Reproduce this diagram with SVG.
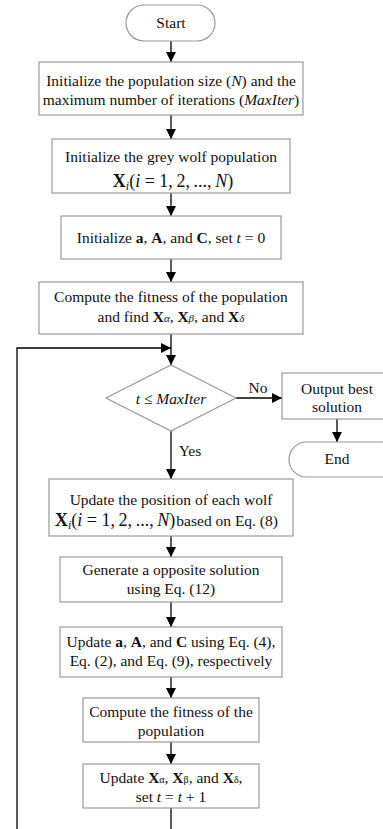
<svg xmlns="http://www.w3.org/2000/svg" width="383" height="829" viewBox="0 0 383 829">
<defs>
<marker id="ah" viewBox="0 0 10 10" refX="10" refY="5" markerWidth="10" markerHeight="10" markerUnits="userSpaceOnUse" orient="auto">
<path d="M0,0 L10,5 L0,10 z" fill="#000"/>
</marker>
</defs>
<style>
.box{fill:#fff;stroke:#999;stroke-width:1.2}
.t{font-family:"Liberation Serif","Times New Roman",serif;font-size:15.5px;fill:#111;text-anchor:middle}
.m{font-family:"Liberation Serif","Times New Roman",serif;font-size:18px;fill:#111}
.c{stroke:#000;stroke-width:1.3;fill:none}
.b{font-weight:bold}
.i{font-style:italic}
</style>
<rect width="383" height="829" fill="#fff"/>
<g id="connectors">
<line class="c" x1="171" y1="41" x2="171" y2="62" marker-end="url(#ah)"/>
<line class="c" x1="171" y1="115" x2="171" y2="139" marker-end="url(#ah)"/>
<line class="c" x1="171" y1="193" x2="171" y2="216" marker-end="url(#ah)"/>
<line class="c" x1="171" y1="259" x2="171" y2="282" marker-end="url(#ah)"/>
<line class="c" x1="171" y1="334" x2="171" y2="365" marker-end="url(#ah)"/>
<polyline class="c" points="17,829 17,348 171,348" marker-end="url(#ah)"/>
<line class="c" x1="236" y1="398" x2="282" y2="398" marker-end="url(#ah)"/>
<line class="c" x1="337" y1="419" x2="337" y2="442" marker-end="url(#ah)"/>
<line class="c" x1="171" y1="431" x2="171" y2="479" marker-end="url(#ah)"/>
<line class="c" x1="171" y1="536" x2="171" y2="557" marker-end="url(#ah)"/>
<line class="c" x1="171" y1="602" x2="171" y2="627" marker-end="url(#ah)"/>
<line class="c" x1="171" y1="677" x2="171" y2="698" marker-end="url(#ah)"/>
<line class="c" x1="171" y1="742" x2="171" y2="764" marker-end="url(#ah)"/>
<line class="c" x1="171" y1="808" x2="171" y2="829"/>
<text class="t" x="258" y="393">No</text>
<text class="t" x="190" y="456">Yes</text>
</g>
<g id="start">
<rect class="box" x="126" y="5" width="89" height="36" rx="18"/>
<text class="t" x="171" y="28">Start</text>
</g>
<g id="init-params">
<rect class="box" x="39" y="62" width="264" height="53"/>
<text class="t" x="171" y="86">Initialize the population size (<tspan class="i">N</tspan>) and the</text>
<text class="t" x="171" y="105">maximum number of iterations (<tspan class="i">MaxIter</tspan>)</text>
</g>
<g id="init-pop">
<rect class="box" x="52" y="139" width="238" height="54"/>
<text class="t" x="171" y="162">Initialize the grey wolf population</text>
<text class="m" x="173" y="187" text-anchor="middle"><tspan class="b">X</tspan><tspan class="i" font-size="12" dy="3">i</tspan><tspan dy="-3">(</tspan><tspan class="i">i</tspan> = 1,&#8201;2,&#8201;...,&#8201;<tspan class="i">N</tspan>)</text>
</g>
<g id="init-aac">
<rect class="box" x="61" y="216" width="220" height="43"/>
<text class="t" x="171" y="243">Initialize <tspan class="b">a</tspan>, <tspan class="b">A</tspan>, and <tspan class="b">C</tspan>, set <tspan class="i">t</tspan> = 0</text>
</g>
<g id="fitness1">
<rect class="box" x="39" y="282" width="264" height="52"/>
<text class="t" x="171" y="302">Compute the fitness of the population</text>
<text class="t" x="171" y="322">and find <tspan class="b">X</tspan><tspan class="i" font-size="11">α</tspan>, <tspan class="b">X</tspan><tspan class="i" font-size="11">β</tspan>, and <tspan class="b">X</tspan><tspan class="i" font-size="11">δ</tspan></text>
</g>
<g id="decision">
<polygon points="171,365 236,398 171,431 106,398" fill="#fff" stroke="#999" stroke-width="1.2"/>
<text class="t i" x="171" y="404" font-size="17">t ≤ MaxIter</text>
</g>
<g id="output">
<rect class="box" x="282" y="373" width="110" height="46"/>
<text class="t" x="337" y="394">Output best</text>
<text class="t" x="337" y="412">solution</text>
</g>
<g id="end">
<rect class="box" x="289" y="442" width="110" height="35" rx="17.5"/>
<text class="t" x="337" y="464">End</text>
</g>
<g id="update-pos">
<rect class="box" x="49" y="479" width="244" height="57"/>
<text class="t" x="171" y="505">Update the position of each wolf</text>
<text class="m" x="55" y="526"><tspan class="b">X</tspan><tspan class="i" font-size="12" dy="3">i</tspan><tspan dy="-3">(</tspan><tspan class="i">i</tspan> = 1,&#8201;2,&#8201;...,&#8201;<tspan class="i">N</tspan>)<tspan font-size="15.5" dx="1">based on Eq. (8)</tspan></text>
</g>
<g id="opposite">
<rect class="box" x="60" y="557" width="222" height="45"/>
<text class="t" x="171" y="575">Generate a opposite solution</text>
<text class="t" x="171" y="594">using Eq. (12)</text>
</g>
<g id="update-aac">
<rect class="box" x="60" y="627" width="222" height="50"/>
<text class="t" x="171" y="647">Update <tspan class="b">a</tspan>, <tspan class="b">A</tspan>, and <tspan class="b">C</tspan> using Eq. (4),</text>
<text class="t" x="171" y="666">Eq. (2), and Eq. (9), respectively</text>
</g>
<g id="fitness2">
<rect class="box" x="83" y="698" width="176" height="44"/>
<text class="t" x="171" y="717">Compute the fitness of the</text>
<text class="t" x="171" y="736">population</text>
</g>
<g id="update-leaders">
<rect class="box" x="83" y="764" width="176" height="44"/>
<text class="t" x="171" y="783">Update <tspan class="b">X</tspan><tspan font-size="10">α</tspan>, <tspan class="b">X</tspan><tspan font-size="10">β</tspan>, and <tspan class="b">X</tspan><tspan font-size="10">δ</tspan>,</text>
<text class="t" x="171" y="802">set <tspan class="i">t</tspan> = <tspan class="i">t</tspan> + 1</text>
</g>
</svg>
